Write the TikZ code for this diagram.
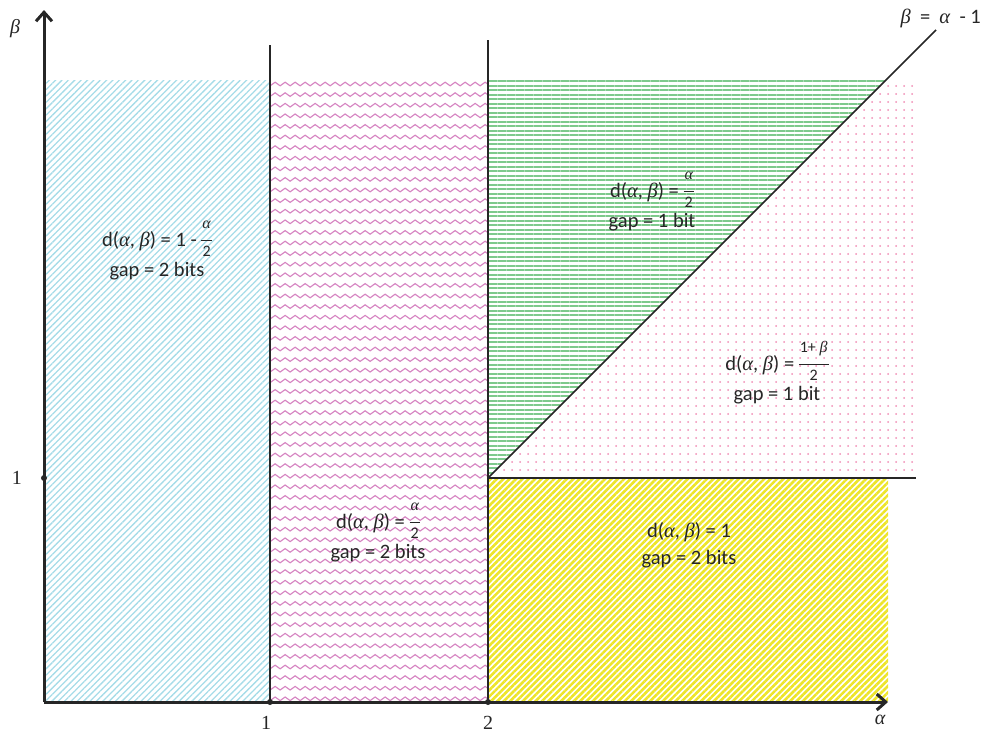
\documentclass[tikz,border=0pt]{standalone}
\usepackage{fontspec}
\setmainfont{Carlito}
\newfontfamily\gk{Liberation Serif}
\newcommand\ga{{\gk\itshape α}}
\newcommand\gb{{\gk\itshape β}}
\usepackage{calc}
\newcommand\sfr[2]{\raisebox{3pt}{$\vcenter{\hbox{\fontsize{16}{17}\selectfont\begin{tabular}{@{}c@{}}#1\\[-4pt]\rule{\widthof{#1}+2pt}{1.3pt}\\[-2pt]#2\end{tabular}}}$}}
\usetikzlibrary{patterns.meta,decorations.pathmorphing,arrows.meta}
\definecolor{cb}{HTML}{A6DCE8}
\definecolor{cw}{HTML}{D685C2}
\definecolor{cg}{HTML}{7EC98C}
\definecolor{cd}{HTML}{F08CB4}
\definecolor{cy}{HTML}{EDE52A}
\definecolor{ink}{HTML}{262626}
\begin{document}
\begin{tikzpicture}[x=1pt,y=-1pt,
  lbl/.style={font=\fontsize{20.5}{27}\selectfont, align=center, text=ink},
  axlbl/.style={font=\gk\fontsize{20}{24}\selectfont, text=ink},
  axis/.style={line width=3pt, draw=ink, -{Straight Barb[length=9pt,width=16pt,line width=3pt]}},
  sep/.style={line width=1.6pt, draw=ink},
  tick/.style={circle, fill=ink, inner sep=0pt, minimum size=6pt}]
\useasboundingbox (0,0) rectangle (989,734);
% regions
\fill[pattern={Lines[angle=45,distance=4.5pt,line width=1.3pt]}, pattern color=cb] (44,80) rectangle (270,702);
\begin{scope}
  \clip (270,80) rectangle (488,702);
  \foreach \y in {84,94.6,...,702}
    \draw[cw, line width=1.15pt, decorate, decoration={snake,segment length=10pt,amplitude=1.8pt}] (262,\y) -- (500,\y);
\end{scope}
\fill[pattern={Lines[angle=0,distance=4.5pt,line width=2pt]}, pattern color=cg] (488,80) -- (886,80) -- (488,478) -- cycle;
\fill[pattern={Dots[distance=8pt,radius=1pt]}, pattern color=cd] (488,478) -- (886,80) -- (918,80) -- (918,478) -- cycle;
\fill[pattern={Lines[angle=45,distance=4.5pt,line width=2.6pt]}, pattern color=cy] (488,478) rectangle (888,702);
% coordinates
\coordinate (O) at (44,702);
\coordinate (ytop) at (44,10);
\coordinate (xend) at (888,702);
\coordinate (v1t) at (270,45);
\coordinate (v2t) at (488,40);
\coordinate (hr) at (916,478);
\coordinate (dtop) at (936,30);
% separators
\draw[sep] (v1t) -- (270,702) coordinate (v1b);
\draw[sep] (v2t) -- (488,702) coordinate (v2b);
\draw[sep] (488,478) coordinate (c2) -- (hr);
\draw[sep] (c2) -- (dtop);
% axes
\draw[axis] (O) -- (ytop);
\draw[axis] (O) -- (xend);
\node[tick] (t1) at (270,702) {};
\node[tick] (t2) at (488,702) {};
\node[tick] (ty) at (44,478) {};
\node[axlbl] (lb) at (15,29) {\gb};
\node[axlbl] (la) at (880,720) {\ga};
\node[axlbl] (l1y) at (17,478) {1};
\node[axlbl] (l1x) at (266,723) {1};
\node[axlbl] (l2x) at (488,723) {2};
\node[lbl, anchor=west] (lline) at (897,18) {\gb\ \ =\ \ \ga\ \ -\ 1};
% region labels
\node[lbl] (r1) at (157,248) {d(\ga, \gb) = 1 - \sfr{\ga}{2}\\gap = 2 bits};
\node[lbl] (r2) at (378,530) {d(\ga, \gb) = \sfr{\ga}{2}\\gap = 2 bits};
\node[lbl] (r3) at (652,199) {d(\ga, \gb) = \sfr{\ga}{2}\\gap = 1 bit};
\node[lbl] (r4) at (777,372) {d(\ga, \gb) = \sfr{1+ \gb}{2}\\gap = 1 bit};
\node[lbl] (r5) at (689,545) {d(\ga, \gb) = 1\\gap = 2 bits};
\end{tikzpicture}
\end{document}
